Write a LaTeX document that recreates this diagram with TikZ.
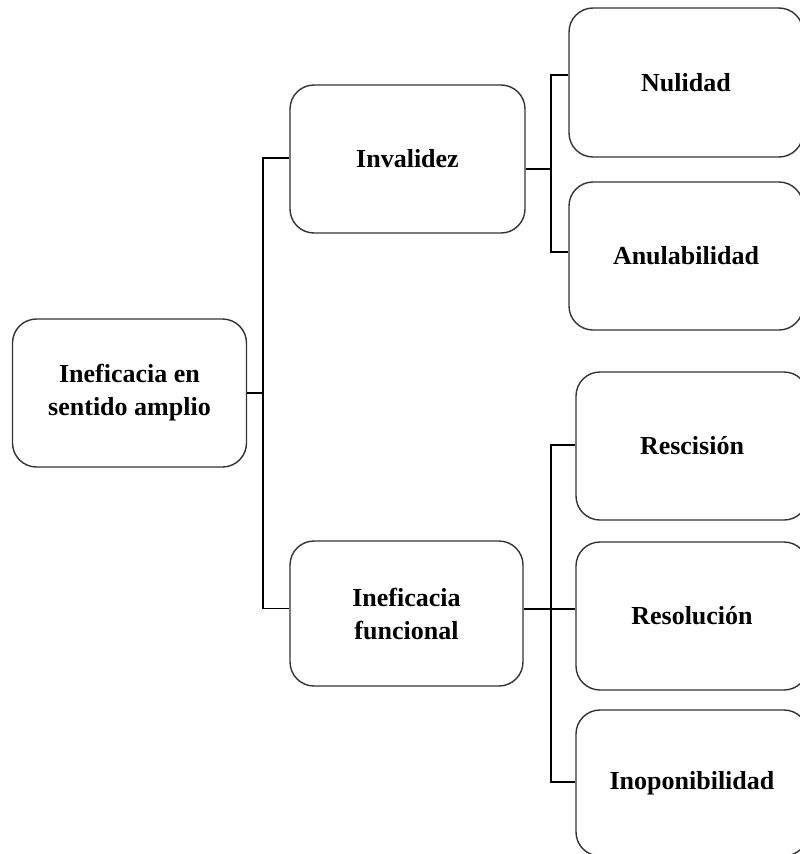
\documentclass[tikz,border=0pt]{standalone}
\usepackage{fontspec}
\setmainfont{Liberation Serif}
\begin{document}
\begin{tikzpicture}[x=1pt,y=-1pt,
  box/.style={draw=black!80, line width=1.4pt, rounded corners=24pt,
    inner sep=0pt, align=center,
    font=\fontsize{26}{33}\selectfont\bfseries},
  link/.style={draw=black, line width=1.3pt}]
  \useasboundingbox (0,0) rectangle (800,854);
  \clip (0,0) rectangle (800,854);
  % boxes
  \node[box, minimum width=234pt, minimum height=148pt] (root) at (129.5,393) {Ineficacia en\\sentido amplio};
  \node[box, minimum width=235pt, minimum height=148pt] (inv) at (407.5,159) {Invalidez};
  \node[box, minimum width=233pt, minimum height=145pt] (ifun) at (406.5,613.5) {Ineficacia\\funcional};
  \node[box, minimum width=234pt, minimum height=149pt] (nul) at (686,82.5) {Nulidad};
  \node[box, minimum width=234pt, minimum height=148pt] (anu) at (686,256) {Anulabilidad};
  \node[box, minimum width=232pt, minimum height=148pt] (resc) at (692,446) {Rescisión};
  \node[box, minimum width=232pt, minimum height=148pt] (reso) at (692,616) {Resolución};
  \node[box, minimum width=232pt, minimum height=146pt] (inop) at (692,783) {Inoponibilidad};
  % junction points of the brackets
  \coordinate (ja) at (263,393);
  \coordinate (jb) at (551,169);
  \coordinate (jc) at (551,609);
  % first level
  \draw[link] (root.east) -- (ja);
  \draw[link] ([yshift=1pt]inv.west) -| (ja) |- ([yshift=5pt]ifun.west);
  % Invalidez branch
  \draw[link] ([yshift=-10pt]inv.east) -- (jb);
  \draw[link] ([yshift=7.5pt]nul.west) -| (jb) |- ([yshift=4pt]anu.west);
  % Ineficacia funcional branch
  \draw[link] ([yshift=4.5pt]ifun.east) -- (jc);
  \draw[link] (jc) -- (jc -| reso.west);
  \draw[link] ([yshift=1pt]resc.west) -| (jc) |- ([yshift=1pt]inop.west);
\end{tikzpicture}
\end{document}
